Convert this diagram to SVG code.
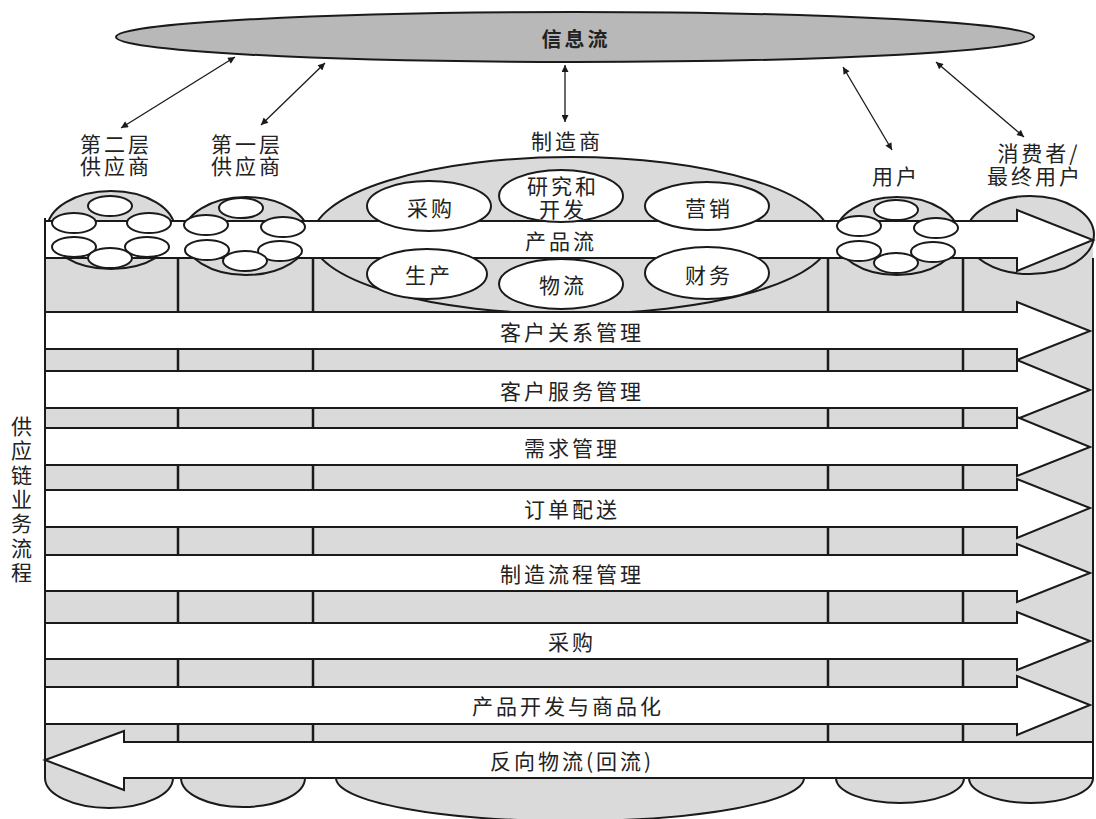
<svg xmlns="http://www.w3.org/2000/svg" width="1096" height="819" viewBox="0 0 1096 819">
<style>
  .t{font-family:"Noto Sans CJK SC","Noto Sans",sans-serif;font-size:21px;fill:#222;text-anchor:middle;dominant-baseline:central;letter-spacing:3px}
  .b{font-weight:bold;font-size:20px}
  .ln{stroke:#1a1a1a;stroke-width:2;fill:none}
  .dv{stroke:#1a1a1a;stroke-width:2.5}
  .gray{fill:#dadada;stroke:#1a1a1a;stroke-width:2}
  .cap{fill:#dadada;stroke:none}
  .band{fill:#fff;stroke:#1a1a1a;stroke-width:2;stroke-linejoin:miter}
  .se{fill:#fff;stroke:#1a1a1a;stroke-width:2}
  .conn{stroke:#1a1a1a;stroke-width:1.3;fill:none;marker-start:url(#ah);marker-end:url(#ah)}
</style>
<defs>
  <marker id="ah" viewBox="0 0 10 10" refX="10" refY="5" markerWidth="11" markerHeight="7" markerUnits="userSpaceOnUse" orient="auto-start-reverse">
    <path d="M0,0 L10,5 L0,10 z" fill="#1a1a1a"/>
  </marker>
</defs>
<rect width="1096" height="819" fill="#fff"/>

<g id="info-flow">
  <ellipse cx="575" cy="37" rx="459" ry="25" fill="#b8b8b8" stroke="#1a1a1a" stroke-width="2"/>
  <text class="t b" x="576" y="38">信息流</text>
</g>

<g id="connectors">
  <line class="conn" x1="235" y1="57" x2="121" y2="128"/>
  <line class="conn" x1="325" y1="63" x2="261" y2="125"/>
  <line class="conn" x1="565" y1="65" x2="565" y2="122"/>
  <line class="conn" x1="843" y1="67" x2="892" y2="150"/>
  <line class="conn" x1="936" y1="62" x2="1024" y2="137"/>
</g>

<g id="labels">
  <text class="t" x="116" y="143">第二层</text>
  <text class="t" x="116" y="165">供应商</text>
  <text class="t" x="247" y="143">第一层</text>
  <text class="t" x="247" y="165">供应商</text>
  <text class="t" x="567" y="140">制造商</text>
  <text class="t" x="896" y="175">用户</text>
  <text class="t" x="1039" y="152">消费者/</text>
  <text class="t" x="1035" y="175">最终用户</text>
</g>

<g id="body">
  <rect class="cap" x="45" y="240" width="1048" height="538"/>
  <path class="gray" d="M45,778 A64,30 0 0,0 173,778"/>
  <path class="gray" d="M181,778 A62,29 0 0,0 305,778"/>
  <path class="gray" d="M336,778 A234,43 0 0,0 804,778"/>
  <path class="gray" d="M836,778 A64,25 0 0,0 964,778"/>
  <path class="gray" d="M969,778 A62,25 0 0,0 1093,778"/>
  <line class="dv" x1="178" y1="258" x2="178" y2="742"/>
  <line class="dv" x1="313" y1="258" x2="313" y2="742"/>
  <line class="dv" x1="828" y1="258" x2="828" y2="742"/>
  <line class="dv" x1="963" y1="258" x2="963" y2="742"/>
  <line class="ln" x1="45" y1="218" x2="45" y2="778"/>
  <line class="ln" x1="1093" y1="258" x2="1093" y2="778"/>
</g>

<g id="tier2-supplier">
  <ellipse class="gray" cx="111" cy="230" rx="64" ry="39"/>
</g>
<g id="tier1-supplier">
  <ellipse class="gray" cx="246" cy="236" rx="63" ry="39"/>
</g>
<g id="manufacturer">
  <path class="gray" d="M312,238 A259,81 0 0,1 830,238 A259,76 0 0,1 312,238 Z"/>
</g>
<g id="user">
  <ellipse class="gray" cx="897" cy="236" rx="62" ry="39"/>
</g>
<g id="consumer">
  <ellipse class="gray" cx="1030" cy="235" rx="64" ry="39"/>
</g>

<g id="band-product-flow">
  <path class="band" d="M45,221 L1017,221 L1017,210 L1093,240 L1017,271 L1017,258 L45,258 Z"/>
</g>
<g id="band-crm">
  <path class="band" d="M45,312 L1017,312 L1017,302 L1090,331 L1017,360 L1017,349 L45,349 Z"/>
  <text class="t" x="572" y="331">客户关系管理</text>
</g>
<g id="band-csm">
  <path class="band" d="M45,371 L1017,371 L1017,360 L1090,390 L1017,419 L1017,408 L45,408 Z"/>
  <text class="t" x="572" y="390">客户服务管理</text>
</g>
<g id="band-demand">
  <path class="band" d="M45,428 L1017,428 L1017,417 L1090,447 L1017,476 L1017,465 L45,465 Z"/>
  <text class="t" x="572" y="447">需求管理</text>
</g>
<g id="band-order">
  <path class="band" d="M45,490 L1017,490 L1017,479 L1090,508 L1017,538 L1017,527 L45,527 Z"/>
  <text class="t" x="572" y="508">订单配送</text>
</g>
<g id="band-mfg">
  <path class="band" d="M45,555 L1017,555 L1017,544 L1090,573 L1017,602 L1017,591 L45,591 Z"/>
  <text class="t" x="572" y="573">制造流程管理</text>
</g>
<g id="band-procure">
  <path class="band" d="M45,623 L1017,623 L1017,612 L1090,641 L1017,670 L1017,659 L45,659 Z"/>
  <text class="t" x="572" y="641">采购</text>
</g>
<g id="band-pd">
  <path class="band" d="M45,687 L1017,687 L1017,676 L1090,705 L1017,735 L1017,724 L45,724 Z"/>
  <text class="t" x="568" y="705">产品开发与商品化</text>
</g>
<g id="band-reverse">
  <path class="band" d="M1093,742 L124,742 L124,731 L45,760 L124,790 L124,778 L1093,778 Z"/>
  <text class="t" x="572" y="760">反向物流(回流)</text>
</g>

<g id="tier2-members">
  <ellipse class="se" cx="110" cy="206" rx="22" ry="10"/>
  <ellipse class="se" cx="74" cy="223" rx="22" ry="10"/>
  <ellipse class="se" cx="149" cy="223" rx="22" ry="10"/>
  <ellipse class="se" cx="74" cy="247" rx="22" ry="10"/>
  <ellipse class="se" cx="147" cy="247" rx="22" ry="10"/>
  <ellipse class="se" cx="110" cy="258" rx="22" ry="10"/>
</g>
<g id="tier1-members">
  <ellipse class="se" cx="241" cy="208" rx="22" ry="10"/>
  <ellipse class="se" cx="206" cy="225" rx="22" ry="10"/>
  <ellipse class="se" cx="283" cy="227" rx="22" ry="10"/>
  <ellipse class="se" cx="207" cy="250" rx="22" ry="10"/>
  <ellipse class="se" cx="280" cy="251" rx="22" ry="10"/>
  <ellipse class="se" cx="245" cy="261" rx="22" ry="10"/>
</g>
<g id="user-members">
  <ellipse class="se" cx="896" cy="210" rx="22" ry="10"/>
  <ellipse class="se" cx="859" cy="226" rx="22" ry="10"/>
  <ellipse class="se" cx="936" cy="228" rx="22" ry="10"/>
  <ellipse class="se" cx="859" cy="251" rx="22" ry="10"/>
  <ellipse class="se" cx="933" cy="252" rx="22" ry="10"/>
  <ellipse class="se" cx="896" cy="263" rx="22" ry="10"/>
</g>

<g id="mfg-procurement">
  <ellipse class="se" cx="429" cy="206" rx="62" ry="25"/>
  <text class="t" x="431" y="207">采购</text>
</g>
<g id="mfg-rd">
  <ellipse class="se" cx="561" cy="196" rx="62" ry="26"/>
  <text class="t" x="563" y="185">研究和</text>
  <text class="t" x="563" y="208">开发</text>
</g>
<g id="mfg-marketing">
  <ellipse class="se" cx="707" cy="206" rx="62" ry="24"/>
  <text class="t" x="709" y="207">营销</text>
</g>
<g id="mfg-production">
  <ellipse class="se" cx="427" cy="274" rx="60" ry="25"/>
  <text class="t" x="429" y="274">生产</text>
</g>
<g id="mfg-logistics">
  <ellipse class="se" cx="561" cy="284" rx="62" ry="25"/>
  <text class="t" x="563" y="284">物流</text>
</g>
<g id="mfg-finance">
  <ellipse class="se" cx="707" cy="273" rx="62" ry="26"/>
  <text class="t" x="709" y="274">财务</text>
</g>
<text class="t" x="561" y="240">产品流</text>

<g id="side-label">
  <text class="t" x="23" y="425">供</text>
  <text class="t" x="23" y="449">应</text>
  <text class="t" x="23" y="474">链</text>
  <text class="t" x="23" y="498">业</text>
  <text class="t" x="23" y="522">务</text>
  <text class="t" x="23" y="547">流</text>
  <text class="t" x="23" y="571">程</text>
</g>
</svg>
